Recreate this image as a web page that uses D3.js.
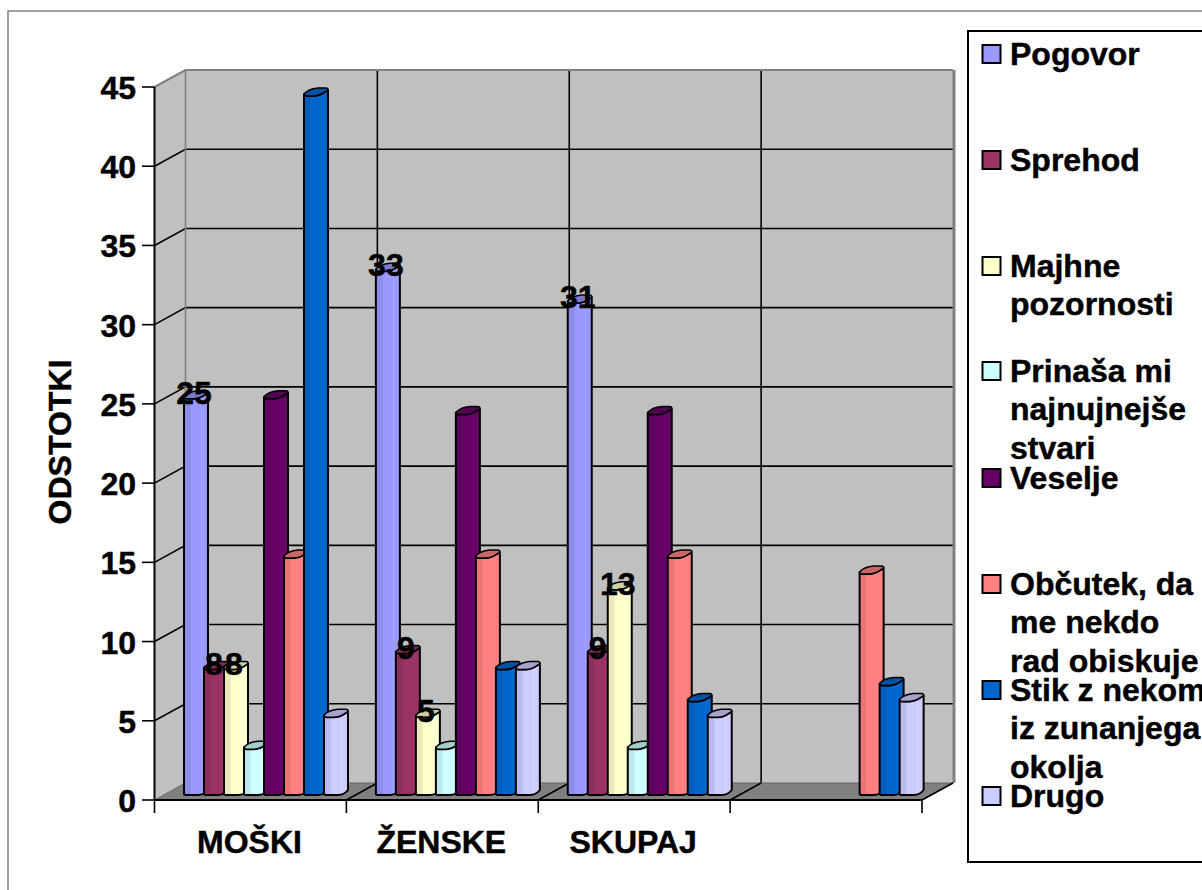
<!DOCTYPE html>
<html><head><meta charset="utf-8">
<script src="https://cdnjs.cloudflare.com/ajax/libs/d3/7.8.5/d3.min.js"></script>
<style>html,body{margin:0;padding:0;background:#fff;overflow:hidden}svg{display:block}
text{font-family:"Liberation Sans",Arial,sans-serif;font-weight:bold;fill:#000;stroke:#000;stroke-width:.45px}</style>
</head><body><svg id="c" width="1202" height="890"></svg>
<script>
const categories = ["MOŠKI","ŽENSKE","SKUPAJ",""];
const seriesNames = ["Pogovor","Sprehod","Majhne pozornosti","Prinaša mi najnujnejše stvari","Veselje","Občutek, da me nekdo rad obiskuje","Stik z nekom iz zunanjega okolja","Drugo"];
const pogovor = [25,33,31,null];
const sprehod = [8,9,9,null];
const majhne = [8,5,13,null];
const prinasa = [3,3,3,null];
const veselje = [25,24,24,null];
const obcutek = [15,15,15,14];
const stik = [44,8,6,7];
const drugo = [5,8,5,6];
const seriesValues = [pogovor,sprehod,majhne,prinasa,veselje,obcutek,stik,drugo];
const labelledSeries = ["Pogovor","Sprehod","Majhne pozornosti"];
const colors = ["#9999FF","#993366","#FFFFCC","#CCFFFF","#660066","#FF8080","#0066CC","#CCCCFF"];
const darkTops = ["#7a7acc","#7a2952","#cfcfa0","#a3cccc","#520052","#cc6666","#0052a3","#a3a3cc"];
const legendLines = [["Pogovor"],["Sprehod"],["Majhne","pozornosti"],["Prinaša mi","najnujnejše","stvari"],["Veselje"],["Občutek, da","me nekdo","rad obiskuje"],["Stik z nekom","iz zunanjega","okolja"],["Drugo"]];
const yTicks = d3.range(0,50,5);

const svg = d3.select("#c");
const dx = 31, dy = 17;
const y = d3.scaleLinear().domain([0,45]).range([800,87]);
const yBack = d3.scaleLinear().domain([0,45]).range([783,70]);
const yBar = d3.scaleLinear().domain([0,45]).range([795,78]);
const x0 = d3.scaleBand().domain(categories.map((c,i)=>i)).range([154.5,922]);
const x1 = d3.scaleBand().domain(seriesNames).range([29.5,189.5]);

// outer frame: top and left edges only
svg.append("path").attr("d","M8,890V11H1202").attr("fill","none").attr("stroke","#808080").attr("stroke-width",1.5);

// walls
const L=x0.range()[0], R=x0.range()[1];
svg.append("path").attr("d",`M${L},${y(45)}L${L+dx},${yBack(45)}L${L+dx},${yBack(0)}L${L},${y(0)}Z`).attr("fill","#c0c0c0");
svg.append("rect").attr("x",L+dx).attr("y",yBack(45)).attr("width",R-L).attr("height",yBack(0)-yBack(45)).attr("fill","#c0c0c0");
// grid
yTicks.filter(t=>t>0&&t<45).forEach(t=>{
  svg.append("path").attr("d",`M${L},${y(t)}L${L+dx},${yBack(t)}L${R+dx},${yBack(t)}`).attr("fill","none").attr("stroke","#000").attr("stroke-width",1.6);
});
categories.slice(1).forEach((c,i)=>{
  const xx=x0(i+1)+dx;
  svg.append("line").attr("x1",xx).attr("x2",xx).attr("y1",yBack(45)).attr("y2",yBack(0)).attr("stroke","#000").attr("stroke-width",1.6);
});
// wall edges
svg.append("path").attr("d",`M${L},${y(45)}L${L+dx},${yBack(45)}L${R+dx},${yBack(45)}`).attr("fill","none").attr("stroke","#808080").attr("stroke-width",2);
svg.append("line").attr("x1",L+dx).attr("x2",L+dx).attr("y1",yBack(45)).attr("y2",yBack(0)).attr("stroke","#808080").attr("stroke-width",1.6);
svg.append("path").attr("d",`M${R+dx+1},${yBack(45)}V${yBack(0)}`).attr("stroke","#808080").attr("stroke-width",3).attr("fill","none");
// floor
svg.append("path").attr("d",`M${L},${y(0)}L${L+dx},${yBack(0)}L${R+dx},${yBack(0)}L${R},${y(0)}Z`).attr("fill","#808080").attr("stroke","#666").attr("stroke-width",1);
categories.forEach((c,i)=>{
  if(i===0) return;
  const xx=x0(i);
  svg.append("line").attr("x1",xx).attr("x2",xx+dx).attr("y1",y(0)).attr("y2",yBack(0)).attr("stroke","#000").attr("stroke-width",1.6);
});
svg.append("line").attr("x1",R).attr("x2",R+dx).attr("y1",y(0)).attr("y2",yBack(0)).attr("stroke","#000").attr("stroke-width",1.6);

// axes
svg.append("line").attr("x1",L).attr("x2",L).attr("y1",y(45)).attr("y2",y(0)).attr("stroke","#000").attr("stroke-width",2);
svg.append("line").attr("x1",L).attr("x2",R).attr("y1",y(0)).attr("y2",y(0)).attr("stroke","#000").attr("stroke-width",2);
yTicks.forEach(t=>{
  svg.append("line").attr("x1",L-12.5).attr("x2",L).attr("y1",y(t)).attr("y2",y(t)).attr("stroke","#000").attr("stroke-width",1.6);
  svg.append("text").attr("x",136).attr("y",y(t)+12).attr("text-anchor","end").attr("font-size",32).text(t);
});
[...categories.keys(),4].forEach(i=>{
  const xx=i<4?x0(i):R;
  svg.append("line").attr("x1",xx).attr("x2",xx).attr("y1",y(0)).attr("y2",813).attr("stroke","#000").attr("stroke-width",1.6);
});
categories.forEach((c,i)=>{
  if(c) svg.append("text").attr("x",x0(i)+x0.bandwidth()/2-1).attr("y",853).attr("text-anchor","middle").attr("font-size",32).text(c);
});
svg.append("text").attr("transform","translate(71,442) rotate(-90)").attr("text-anchor","middle").attr("font-size",32).text("ODSTOTKI");

// gradients
const defs=svg.append("defs");
colors.forEach((col,i)=>{
  const g=defs.append("linearGradient").attr("id","g"+i);
  const c0=d3.color(col);
  const dk=c0.darker(0.25), hl=c0.brighter(0.18);
  [[0,dk],[.26,dk],[.3,col],[.71,col],[.72,hl],[.76,hl],[.77,col],[1,col]].forEach(([o,cc])=>g.append("stop").attr("offset",o).attr("stop-color",cc));
});

// bars
function barPath(x,w,yt,yb){
  return `M${x},${yt}V${yb-1}Q${x},${yb} ${x+3},${yb}H${x+w-10}Q${x+w-4},${yb} ${x+w},${yb-5}V${yt-4}
  Q${x+w-8},${yt+2} ${x+10},${yt+2}H${x+3}Q${x},${yt+2} ${x},${yt}Z`;
}
function topPath(x,w,yt){
  return `M${x},${yt}Q${x+4},${yt-5} ${x+14},${yt-6}H${x+w-2}Q${x+w},${yt-6} ${x+w},${yt-4}Q${x+w-8},${yt+2} ${x+10},${yt+2}H${x+3}Q${x},${yt+2} ${x},${yt}Z`;
}
const bw=24;
seriesNames.forEach((s,si)=>{
  seriesValues[si].forEach((v,ci)=>{
    if(v==null) return;
    const xx=x0(ci)+x1(s), yt=yBar(v), yb=yBar(0);
    svg.append("path").attr("d",barPath(xx,bw,yt,yb)).attr("fill",`url(#g${si})`).attr("stroke","#000").attr("stroke-width",2).attr("stroke-linejoin","round");
    svg.append("path").attr("d",topPath(xx,bw,yt)).attr("fill",darkTops[si]).attr("stroke","#000").attr("stroke-width",1.5).attr("stroke-linejoin","round");
  });
});
// data labels
seriesNames.forEach((s,si)=>{
  if(!labelledSeries.includes(s)) return;
  seriesValues[si].forEach((v,ci)=>{
    if(v==null) return;
    svg.append("text").attr("x",x0(ci)+x1(s)+10).attr("y",yBar(v)+7).attr("text-anchor","middle").attr("font-size",32).text(v);
  });
});

// legend
svg.append("rect").attr("x",968).attr("y",31).attr("width",260).attr("height",831).attr("fill","#fff").attr("stroke","#000").attr("stroke-width",2);
const legendY=[54,160,266,371,478,584,690,796];
const lineStep=38.5;
legendLines.forEach((ls,i)=>{
  svg.append("rect").attr("x",982.5).attr("y",legendY[i]-9).attr("width",18).attr("height",18).attr("fill",colors[i]).attr("stroke","#000").attr("stroke-width",2);
  ls.forEach((t,j)=>svg.append("text").attr("x",1010).attr("y",legendY[i]+10.5+j*lineStep).attr("font-size",32).text(t));
});
</script></body></html>
